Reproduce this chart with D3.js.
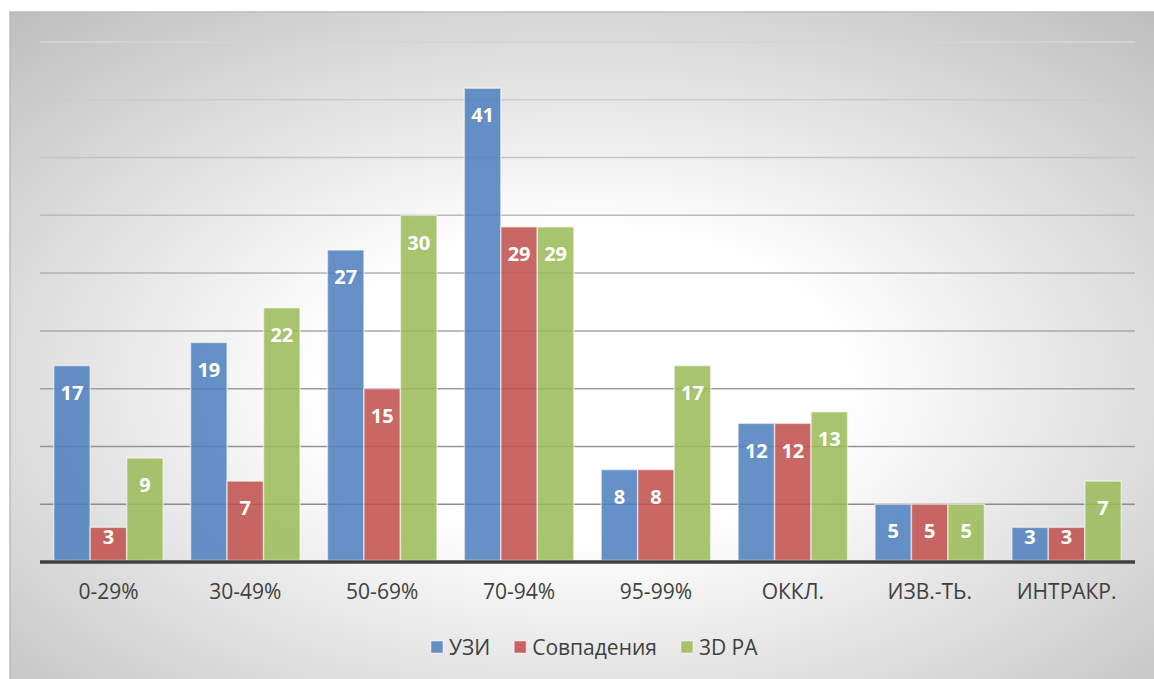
<!DOCTYPE html>
<html>
<head>
<meta charset="utf-8">
<script src="https://cdn.jsdelivr.net/npm/d3@7"></script>
<style>
  html, body { margin: 0; padding: 0; background: #ffffff; }
  svg { display: block; }
</style>
</head>
<body>
<svg id="chart" width="1154" height="679"></svg>
<script>
const categories = ["0-29%", "30-49%", "50-69%", "70-94%", "95-99%", "ОККЛ.", "ИЗВ.-ТЬ.", "ИНТРАКР."];
const seriesNames = ["УЗИ", "Совпадения", "3D PA"];
const uziValues = [17, 19, 27, 41, 8, 12, 5, 3];
const sovpValues = [3, 7, 15, 29, 8, 12, 5, 3];
const paValues = [9, 22, 30, 29, 17, 13, 5, 7];
const gridTicks = [5, 10, 15, 20, 25, 30, 35, 40, 45];

const seriesValues = [uziValues, sovpValues, paValues];
const colors = ["#4f81bd", "#c0504d", "#9bbb59"];
const font = "'Open Sans', 'Noto Sans', sans-serif";

const svg = d3.select("#chart");
const defs = svg.append("defs");
const grad = defs.append("radialGradient")
  .attr("id", "bg").attr("cx", "0.5").attr("cy", "0.55").attr("r", "0.75");
grad.append("stop").attr("offset", "0").attr("stop-color", "#ffffff");
grad.append("stop").attr("offset", "0.3").attr("stop-color", "#ffffff");
grad.append("stop").attr("offset", "1").attr("stop-color", "#bdbdbd");

svg.append("rect").attr("x", 10).attr("y", 12).attr("width", 1150).attr("height", 675)
  .attr("fill", "url(#bg)").attr("stroke", "#bcbcbc").attr("stroke-width", 1.5);

const margin = { left: 40, right: 1135, top: 42, bottom: 562 };
const x0 = d3.scaleBand().domain(categories).range([margin.left, margin.right])
  .paddingInner(0.2).paddingOuter(0.1);
const x1 = d3.scaleBand().domain(d3.range(seriesNames.length)).range([0, x0.bandwidth()]);
const y = d3.scaleLinear().domain([0, 45]).range([margin.bottom, margin.top]);

const gridColor = d3.scaleLinear().domain([45, 5]).range(["#d4d4d4", "#8c8c8c"]);
svg.append("g").selectAll("line").data(gridTicks).join("line")
  .attr("x1", margin.left).attr("x2", margin.right)
  .attr("y1", d => y(d)).attr("y2", d => y(d))
  .attr("stroke", d => gridColor(d)).attr("stroke-width", 1.5);

const groups = svg.append("g").selectAll("g").data(categories).join("g")
  .attr("transform", c => `translate(${x0(c)},0)`);

groups.each(function(c, ci) {
  const g = d3.select(this);
  seriesValues.forEach((vals, si) => {
    const v = vals[ci];
    g.append("rect")
      .attr("x", x1(si)).attr("y", y(v))
      .attr("width", x1.bandwidth()).attr("height", y(0) - y(v) - 1.5)
      .attr("fill", colors[si]).attr("fill-opacity", 0.87)
      .attr("stroke", "#ffffff").attr("stroke-opacity", 0.55).attr("stroke-width", 1.5);
  });
  seriesValues.forEach((vals, si) => {
    const v = vals[ci];
    const ly = Math.min(y(v) + 27, y(0) - 25);
    g.append("text")
      .attr("x", x1(si) + x1.bandwidth() / 2).attr("y", ly)
      .attr("dy", "0.36em").attr("text-anchor", "middle")
      .attr("fill", "#ffffff").attr("font-family", font)
      .attr("font-weight", "bold").attr("font-size", 20)
      .text(v);
  });
});

// baseline axis
const xAxis = d3.axisBottom(x0).tickSize(0).tickPadding(22);
const ax = svg.append("g").attr("transform", `translate(0,${y(0)})`).call(xAxis);
ax.select(".domain").attr("stroke", "#404040").attr("stroke-width", 3.5)
  .attr("d", `M${margin.left},0H${margin.right}`);
ax.selectAll("text").attr("font-family", font).attr("font-size", 21)
  .attr("fill", "#404040").attr("dy", "0.71em");

// legend
const legend = svg.append("g");
let lx = 431;
seriesNames.forEach((name, i) => {
  const item = legend.append("g").attr("transform", `translate(${lx},641)`);
  item.append("rect").attr("width", 12).attr("height", 12)
    .attr("fill", colors[i]).attr("fill-opacity", 0.87)
    .attr("stroke", "#ffffff").attr("stroke-opacity", 0.5);
  const t = item.append("text").attr("x", 18).attr("y", 6).attr("dy", "0.36em")
    .attr("font-family", font).attr("font-size", 21).attr("fill", "#404040").text(name);
  lx += 18 + t.node().getComputedTextLength() + 24;
});
</script>
</body>
</html>
